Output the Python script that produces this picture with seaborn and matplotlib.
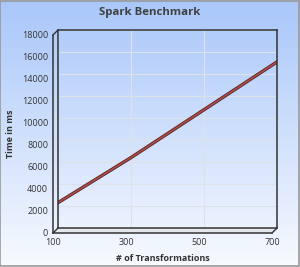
import numpy as np
import pandas as pd
import matplotlib
matplotlib.use("Agg")
import matplotlib.pyplot as plt
import matplotlib.patheffects as pe
from matplotlib.patches import Polygon, Rectangle
from matplotlib.lines import Line2D
import seaborn as sns

transformations = [100, 300, 500, 700]
time_ms = [2300, 6400, 10750, 15100]
x_ticks = [100, 300, 500, 700]
y_ticks = [0, 2000, 4000, 6000, 8000, 10000, 12000, 14000, 16000, 18000]

sns.set_theme(style="white")
plt.rcParams['font.family'] = ['Open Sans', 'DejaVu Sans']

W, H = 300, 267
fig = plt.figure(figsize=(W / 100, H / 100), dpi=100)

def fx(px):
    return px / W

def fy(py):
    return (H - py) / H

# background gradient
bg = fig.add_axes([0, 0, 1, 1], zorder=-10)
top = np.array([0.66, 0.78, 0.98])
bot = np.array([0.97, 0.98, 1.0])
t = np.linspace(0, 1, 256)[:, None]
grad = top[None, :] * (1 - t) + bot[None, :] * t
bg.imshow(grad[:, None, :].repeat(2, axis=1), aspect='auto', extent=[0, 1, 0, 1])
bg.set_xlim(0, 1)
bg.set_ylim(0, 1)
bg.axis('off')
bg.add_patch(Rectangle((0.0015, 0.002), 0.996, 0.995, fill=False, edgecolor='#999999', lw=1.2, transform=bg.transAxes))

# floor
floor = Polygon([(fx(53), fy(233)), (fx(272), fy(233)), (fx(277), fy(228)), (fx(58), fy(228))],
                closed=True, transform=fig.transFigure, facecolor='#e4e7ec', edgecolor='none', zorder=0)
fig.patches.append(floor)

# back wall axes
axb = fig.add_axes([fx(58), 1 - (228 / H), 219 / W, 198 / H], zorder=1)
axb.set_facecolor('none')
axb.set_xlim(100, 700)
axb.set_ylim(0, 18000)
axb.set_xticks(x_ticks)
axb.set_yticks(y_ticks)
axb.grid(True, color='#dde1e8', lw=0.8)
axb.tick_params(length=0, labelleft=False, labelbottom=False)
for s in axb.spines.values():
    s.set_color('#333333')
    s.set_linewidth(1.1)

df = pd.DataFrame({'x': transformations, 'y': time_ms})
sns.lineplot(data=df, x='x', y='y', ax=axb, color='#b04a48', lw=1.3,
             path_effects=[pe.Stroke(linewidth=2.4, foreground='#4a2222'), pe.Normal()])
axb.set_xlabel('')
axb.set_ylabel('')

# front axes (labels)
axf = fig.add_axes([fx(53), 1 - (233 / H), 219 / W, 198 / H], zorder=2)
axf.set_facecolor('none')
axf.set_xlim(100, 700)
axf.set_ylim(0, 18000)
axf.set_xticks(x_ticks)
axf.set_yticks(y_ticks)
axf.set_xticklabels([str(v) for v in x_ticks])
axf.set_yticklabels([str(v) for v in y_ticks])
axf.tick_params(length=0, labelsize=6.5, colors='#333333', pad=3.5)
axf.spines['top'].set_visible(False)
axf.spines['right'].set_visible(False)
for s in ['left', 'bottom']:
    axf.spines[s].set_color('#333333')
    axf.spines[s].set_linewidth(1.1)
axf.set_xlabel('# of Transformations', fontsize=6.5, fontweight='bold', color='#333333', labelpad=5)
axf.set_ylabel('Time in ms', fontsize=6.5, fontweight='bold', color='#333333', labelpad=5)

# 3D diagonals
for (x0, y0, x1, y1) in [(53, 35, 58, 30), (53, 233, 58, 228), (272, 233, 277, 228)]:
    fig.lines.append(Line2D([fx(x0), fx(x1)], [fy(y0), fy(y1)], transform=fig.transFigure,
                            color='#333333', lw=1.0, zorder=3))

fig.suptitle('Spark Benchmark', fontsize=8.2, fontweight='bold', color='#404040', y=fy(12), va='center')

fig.savefig('out.png', dpi=100)
